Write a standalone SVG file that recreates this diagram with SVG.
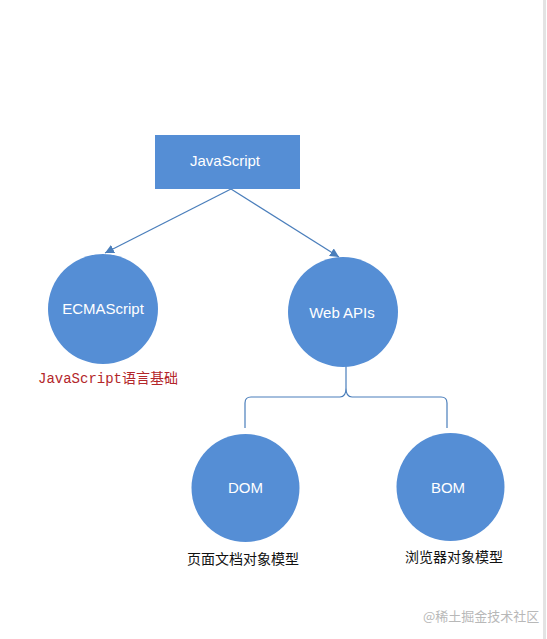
<svg xmlns="http://www.w3.org/2000/svg" width="547" height="639" viewBox="0 0 547 639">
  <style>
    .node { fill: #558ED5; }
    .lbl { fill: #ffffff; font-family: "Liberation Sans", "Noto Sans", sans-serif; font-size: 15px; text-anchor: middle; }
    .conn { fill: none; stroke: #4A7EBB; stroke-width: 1.2; }
    .cap { fill: #111111; font-family: "Liberation Sans", "Noto Sans CJK SC", sans-serif; font-size: 14px; }
    .red { fill: #B3262A; font-family: "Liberation Mono", "Noto Sans CJK SC", monospace; font-size: 14px; }
    .wm { fill: #b8b8b8; font-family: "Noto Sans CJK SC", sans-serif; font-size: 13px; }
  </style>
  <defs>
    <marker id="arr" viewBox="0 0 10 10" refX="10" refY="5" markerWidth="9" markerHeight="9" markerUnits="userSpaceOnUse" orient="auto">
      <path d="M0,0 L10,5 L0,10 z" fill="#4A7EBB"/>
    </marker>
  </defs>
  <rect x="0" y="0" width="547" height="639" fill="#ffffff"/>
  <rect x="543" y="0" width="3" height="639" fill="#e3e3e3"/>

  <g id="connectors">
    <line class="conn" x1="231" y1="189" x2="105" y2="253" marker-end="url(#arr)"/>
    <line class="conn" x1="231" y1="189" x2="339" y2="257" marker-end="url(#arr)"/>
    <path class="conn" d="M346,366 L346,388 Q346,397 340,397 L251,397 Q245,397 245,403 L245,428 M346,388 Q346,397 352,397 L441,397 Q447,397 447,403 L447,428"/>
  </g>

  <g id="javascript">
    <rect class="node" x="155" y="135" width="145" height="54"/>
    <text class="lbl" x="225" y="166">JavaScript</text>
  </g>
  <g id="ecmascript">
    <circle class="node" cx="103" cy="309" r="55"/>
    <text class="lbl" x="103" y="314">ECMAScript</text>
  </g>
  <g id="webapis">
    <circle class="node" cx="343" cy="312" r="55"/>
    <text class="lbl" x="342" y="318">Web APIs</text>
  </g>
  <g id="dom">
    <circle class="node" cx="245.5" cy="488" r="54"/>
    <text class="lbl" x="245.5" y="493">DOM</text>
  </g>
  <g id="bom">
    <circle class="node" cx="450.5" cy="487" r="54"/>
    <text class="lbl" x="448" y="493">BOM</text>
  </g>

  <text class="red" x="38" y="383">JavaScript语言基础</text>
  <text class="cap" x="187" y="564">页面文档对象模型</text>
  <text class="cap" x="405" y="562">浏览器对象模型</text>
  <text class="wm" x="423" y="621">@稀土掘金技术社区</text>
</svg>
